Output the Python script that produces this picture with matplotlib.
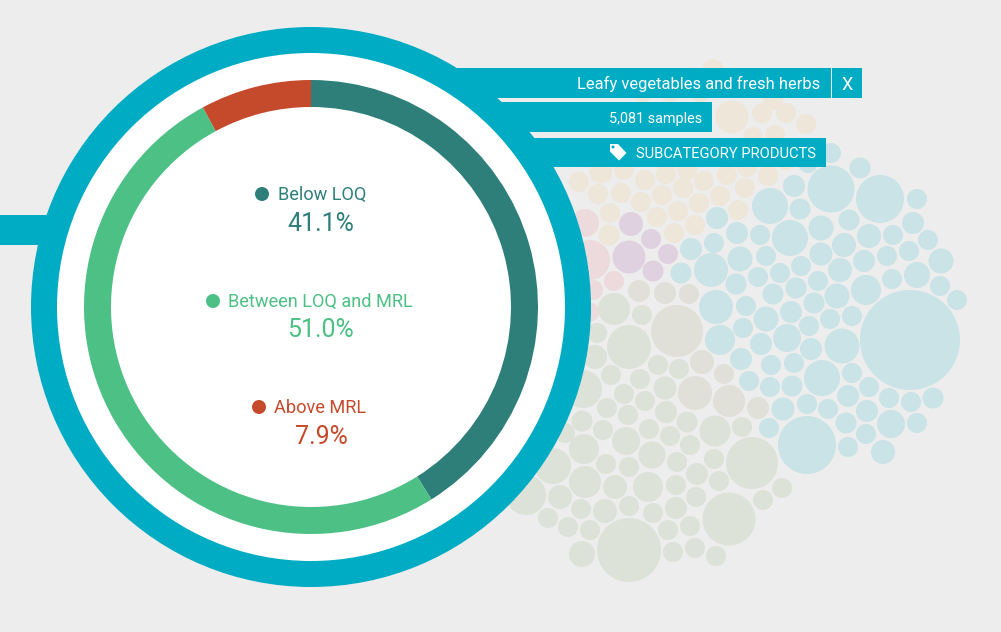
import matplotlib
matplotlib.use("Agg")
import matplotlib.pyplot as plt
from matplotlib.patches import Circle, Rectangle, Polygon

plt.rcParams['font.family'] = ['Roboto', 'DejaVu Sans']

# Donut data
segment_names = ["Below LOQ", "Between LOQ and MRL", "Above MRL"]
segment_values = [41.1, 51.0, 7.9]
segment_labels = ["41.1%", "51.0%", "7.9%"]
segment_colors = ["#2e7f7a", "#4cc085", "#c44a2b"]

title_text = "Leafy vegetables and fresh herbs"
samples_text = "5,081 samples"
category_text = "SUBCATEGORY PRODUCTS"

# Bubbles: (x, y, radius), read in picture pixels
blue_bubbles = [
    (860,168,10.5),(831,189,23.5),(880,199,24),(917,199,10),(794,186,11),(770,206,18),(800,209,10.5),
    (913,223,11),(849,220,10.5),(821,228,12.5),(790,238,18),(760,235,10),(869,236,12),(893,235,10),
    (928,240,10),(844,245,12),(737,233,11),(909,251,10),(941,261,12.5),(887,256,10),(821,254,11.5),
    (864,261,11),(766,256,10),(740,259,12.5),(801,266,10),(840,270,12),(780,273,10),(758,277,10),
    (818,281,10),(892,279,10),(917,275,13),(866,290,15),(940,286,10),(957,300,10),(796,288,10.5),
    (837,296,12.5),(773,294,10.5),(736,284,10.5),(814,303,10.5),(746,306,10),(791,312,11),(766,319,12.5),
    (830,319,10),(852,316,10),(809,326,10),(910,340,50),(743,328,10),(787,338,14),(842,346,17.5),
    (761,344,11),(811,349,11),(741,359,11),(771,365,10),(794,363,10),(822,378,18),(852,373,10),
    (749,381,10),(770,387,10),(792,386,10.5),(869,387,10),(848,396,11),(889,398,10),(911,402,10),
    (933,398,10.5),(807,404,10),(783,409,11.5),(828,409,10),(867,411,11),(769,428,10),(846,423,10.5),
    (891,424,14),(917,423,10),(866,434,10),(807,445,29),(848,447,10),(883,452,12),
    (716,307,17),(720,340,15),(681,273,10.5),(711,270,17),(717,218,11),(714,243,10),(691,249,11),
    (808,163,10),(831,153,10),
]
beige_bubbles = [
    (713,70,11),(732,117,16.5),(762,113,10),(786,113,10),(806,124,10),(753,137,10),(775,135,10),(773,100,10),
    (700,92,10),(643,92,10),(670,92,10),
    (579,182,10),(601,172,11.5),(624,170,10),(645,180,10),(666,174,10),(687,170,10),(704,181,10),
    (727,175,10),(747,167,10),(745,188,10),(768,176,10),(786,160,10),(598,194,10),(621,193,10),
    (641,202,10),(662,195,10),(683,188,10),(720,196,10),(699,203,10),(678,211,10),(738,210,10),
    (657,217,10),(695,225,10),(674,233,10),(610,213,10),(609,235,10.5),
]
pink_bubbles = [(585,223,14),(590,260,20),(614,281,10),(593,290,10),(589,312,10)]
purple_bubbles = [(631,224,12),(651,239,10),(668,254,10),(629,257,16.5),(653,271,10.5)]
khaki_bubbles = [
    (639,291,11),(665,293,11),(689,294,10),(677,331,26),(702,362,12),(724,374,10),(695,393,17),
    (729,401,16),(758,408,11),
]
green_bubbles = [
    (614,309,16),(642,315,10),(629,347,22),(597,333,10),(595,357,12),(658,365,10),(679,369,10),
    (611,375,10),(640,379,10),(665,388,11.5),(624,394,10),(583,389,19),(645,401,10),(607,408,10),
    (628,415,10),(666,412,11),(687,422,10.5),(582,421,10.5),(715,431,15.5),(742,427,10),(603,430,10),
    (649,429,10),(626,441,14),(670,436,10),(584,449,15),(690,445,10),(652,455,13.5),(606,464,10),
    (629,467,10),(677,462,10),(714,459,10),(752,463,26),(553,466,18),(585,482,16),(615,487,12),
    (648,487,15),(697,474,11),(719,481,10),(676,485,10),(782,488,10),(526,495,20),(560,497,12),
    (696,497,10),(763,500,10),(629,506,10),(605,511,12),(581,509,10),(676,508,11),(653,513,10),
    (729,519,26.5),(548,518,10),(690,526,10),(668,530,10),(568,527,10),(590,530,10),(629,550,32),
    (582,554,13),(673,552,10),(695,548,10),(716,556,10),(565,433,10),
]
bubble_groups = [
    (blue_bubbles, "#c9e3e6"), (beige_bubbles, "#efe6da"), (pink_bubbles, "#eddadd"),
    (purple_bubbles, "#e0d1e0"), (khaki_bubbles, "#e0e0d9"), (green_bubbles, "#dde2d8"),
]

BG = "#ededed"
TEAL = "#00abc4"

fig = plt.figure(figsize=(10.01, 6.32), dpi=100, facecolor=BG)
ax = fig.add_axes([0, 0, 1, 1])
ax.set_facecolor(BG)

for bubbles, color in bubble_groups:
    for x, y, r in bubbles:
        ax.add_patch(Circle((x, y), r, facecolor=color, edgecolor="none", zorder=1))

# Callout bars (run behind the ring)
ax.add_patch(Rectangle((0, 215), 120, 30, facecolor=TEAL, edgecolor="none", zorder=2))
ax.add_patch(Rectangle((320, 68), 510.5, 29.5, facecolor=TEAL, edgecolor="none", zorder=2))
ax.add_patch(Rectangle((832, 68), 30, 29.5, facecolor=TEAL, edgecolor="none", zorder=2))
ax.add_patch(Rectangle((320, 102), 392, 30, facecolor=TEAL, edgecolor="none", zorder=2))
ax.add_patch(Rectangle((320, 137.5), 506, 29.5, facecolor=TEAL, edgecolor="none", zorder=2))

# Ring and white disc
cx, cy = 311, 307
ax.add_patch(Circle((cx, cy), 280, facecolor=TEAL, edgecolor="none", zorder=3))
ax.add_patch(Circle((cx, cy), 254, facecolor="white", edgecolor="none", zorder=4))

# Donut (y axis is inverted: counterclockwise in data reads clockwise on screen)
wedges, _ = ax.pie(segment_values, colors=segment_colors, center=(cx, cy), radius=227,
                   startangle=-90, counterclock=True, frame=True,
                   wedgeprops=dict(width=27, linewidth=0))
for w in wedges:
    w.set_zorder(5)

# Legend inside the donut
dot_x = [262, 213, 259]
dot_y = [194, 301, 407]
pct_y = [224, 330, 437]
for i in range(3):
    c = segment_colors[i]
    ax.add_patch(Circle((dot_x[i], dot_y[i]), 7, facecolor=c, edgecolor="none", zorder=6))
    ax.text(dot_x[i] + 15.5, dot_y[i] + 1, segment_names[i], color=c, fontsize=13.1,
            ha="left", va="center", zorder=6)
    ax.text(321, pct_y[i], segment_labels[i], color=c, fontsize=18,
            ha="center", va="center", zorder=6)

# Callout texts
ax.text(820.5, 84, title_text, color="white", fontsize=11.85, ha="right", va="center", zorder=6)
ax.text(847, 85, "X", color="white", fontsize=13, ha="center", va="center", zorder=6)
ax.text(702, 118.5, samples_text, color="white", fontsize=10.4, ha="right", va="center", zorder=6)
ax.text(816, 153.5, category_text, color="white", fontsize=10.65, ha="right", va="center", zorder=6)

# Tag icon
ax.add_patch(Polygon([(610, 144), (618, 144), (626.5, 153), (619, 160.5), (610, 151.5)], closed=True,
                     facecolor="white", edgecolor="none", zorder=6))
ax.add_patch(Circle((613, 147), 1.5, facecolor=TEAL, edgecolor="none", zorder=7))

ax.set_aspect("equal")
ax.set_xlim(0, 1001)
ax.set_ylim(632, 0)
ax.axis("off")

fig.savefig("out.png", dpi=100, facecolor=BG)
